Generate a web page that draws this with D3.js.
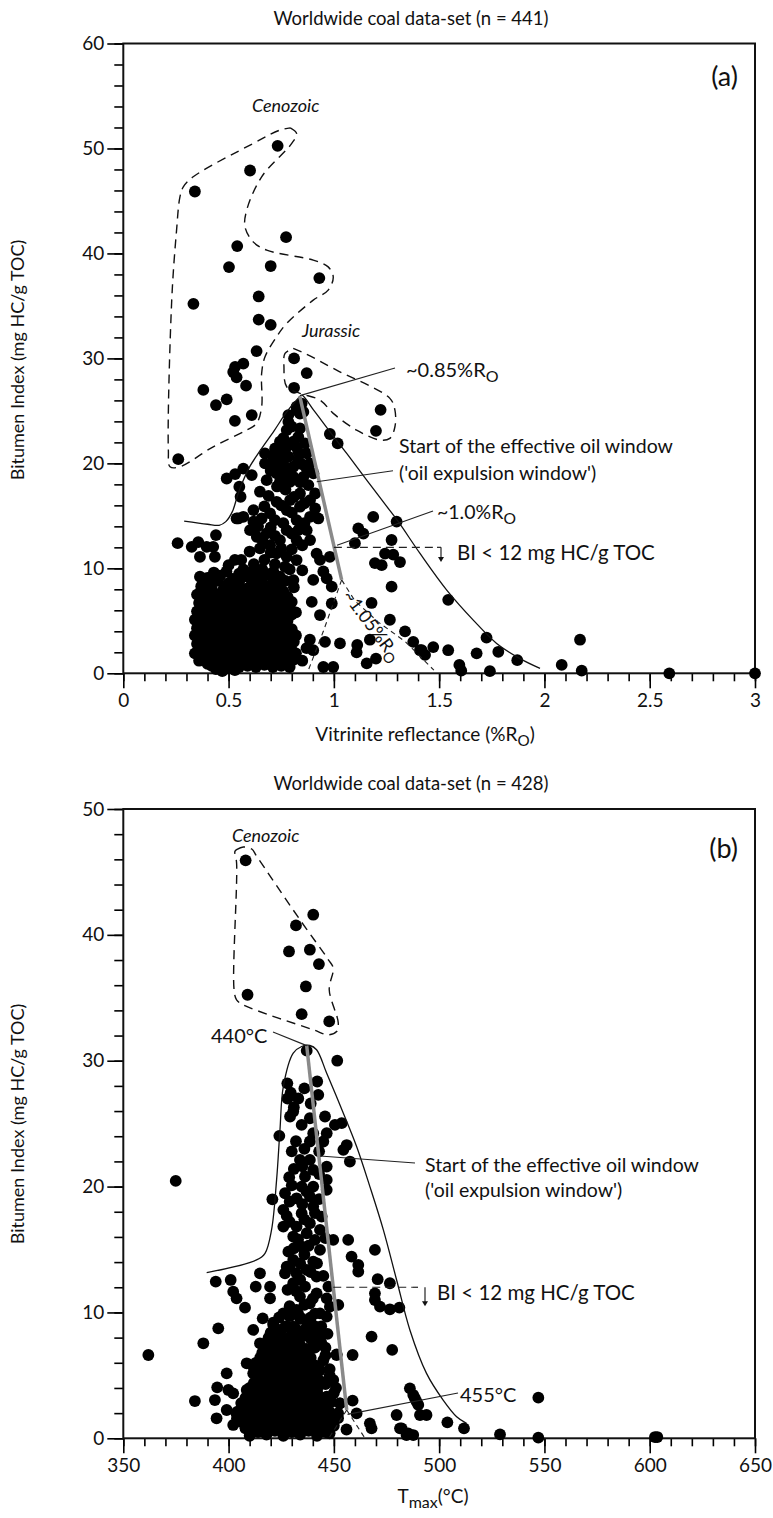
<!DOCTYPE html>
<html><head><meta charset="utf-8">
<script src="https://cdn.jsdelivr.net/npm/d3@7"></script>
<style>body{margin:0;background:#fff}svg{display:block}text{font-family:Lato,"Open Sans",sans-serif;fill:#111}</style>
</head><body>
<script>
// ---------- DATA: panel (a) Vitrinite reflectance vs Bitumen Index ----------
const xTicksA = [0, 0.5, 1, 1.5, 2, 2.5, 3];
const yTicksA = [0, 10, 20, 30, 40, 50, 60];
const pointsA = [
 // Cenozoic
 [0.733,50.25],[0.602,47.9],[0.340,45.9],[0.773,41.55],[0.541,40.7],[0.502,38.7],[0.700,38.8],[0.931,37.65],[0.333,35.2],[0.643,35.9],[0.643,33.7],[0.700,33.2],[0.633,30.7],[0.531,29.2],[0.570,29.5],[0.522,28.7],[0.538,28.2],[0.583,27.4],[0.380,27.0],[0.440,25.55],[0.491,26.1],[0.530,24.05],[0.610,24.6],[0.261,20.4],
 // Jurassic
 [0.811,30.0],[0.871,28.6],[0.811,27.2],[1.222,25.1],[1.200,23.1],
 [0.981,22.8],[1.018,21.9],
 // column near peak
 [0.823,25.4],[0.847,25.7],[0.855,24.9],[0.823,25.07],[0.839,24.75],[0.784,24.6],
 [0.784,23.96],[0.776,23.17],[0.839,23.33],[0.831,22.53],[0.808,22.06],[0.863,21.9],[0.744,22.06],[0.721,21.42],[0.768,21.26],[0.831,21.1],[0.871,20.95],[0.673,20.95],[0.713,20.47],[0.744,20.63],[0.784,20.63],[0.831,20.31],[0.887,20.0],[0.673,20.0],[0.713,19.83],[0.752,19.68],[0.808,19.68],[0.871,19.52],[0.903,19.04],[0.728,19.04],[0.768,18.88],[0.808,18.72],[0.855,18.72],[0.879,17.93],[0.681,18.4],[0.744,18.25],[0.792,18.25],[0.911,17.13],[0.839,17.13],[0.887,16.5],[0.792,16.5],[0.728,16.34],[0.649,17.3],[0.911,15.7],[0.839,15.87],[0.776,15.55],[0.887,14.91],[0.823,14.6],[0.697,15.23],[0.618,15.55],[0.657,14.75],[0.618,14.44],[0.570,14.91],[0.546,14.75],[0.926,14.75],[0.871,13.64],[0.831,13.64],[0.776,13.64],[0.681,13.33],[0.634,13.01],[0.602,13.64],[0.887,12.69],[0.823,12.69],[0.744,12.69],[0.697,12.21],[0.649,11.9],[0.728,11.42],[0.776,11.1],[0.823,10.79],[0.768,10.15],[0.713,9.67],[0.649,9.52],[0.744,9.2],[0.808,8.88],
 [0.80,23.5],[0.76,22.4],[0.82,21.6],[0.79,21.8],[0.72,20.9],[0.76,19.9],[0.85,19.9],[0.70,19.3],[0.79,19.3],[0.84,18.2],[0.73,17.8],[0.77,17.5],[0.69,16.9],[0.81,16.8],[0.86,16.2],[0.75,16.0],[0.80,15.3],[0.67,15.9],[0.72,14.6],[0.76,14.3],[0.86,14.3],[0.70,13.9],[0.80,13.3],[0.64,14.0],[0.66,12.7],[0.72,13.1],[0.85,12.2],[0.80,11.8],[0.70,11.5],[0.75,11.9],[0.67,10.8],[0.62,10.4],[0.72,10.4],[0.79,9.9],[0.85,9.8],[0.66,9.9],[0.57,9.9],[0.53,10.8],
 // left flank
 [0.491,18.56],[0.531,18.98],[0.570,19.5],[0.610,18.88],[0.551,17.77],[0.557,16.82],[0.538,14.75],[0.440,13.17],[0.258,12.4],[0.325,12.05],[0.356,12.5],[0.396,12.05],[0.427,12.05],[0.364,11.1],[0.435,11.1],[0.364,9.2],[0.443,9.35],[0.50,10.3],[0.56,10.8],[0.60,11.6],
 // right scatter
 [1.298,14.45],[1.187,14.9],[1.116,13.8],[1.140,13.3],[1.100,12.4],[1.274,12.7],[1.243,11.4],[1.282,11.3],[1.314,10.6],[1.195,10.5],[1.227,10.3],[1.274,8.25],[1.543,7.0],[1.179,6.7],[1.266,5.1],[1.338,4.0],[1.377,3.0],[1.417,2.2],[1.472,2.5],[1.543,2.2],[1.725,3.4],[1.678,1.9],[1.781,2.05],[2.169,3.2],[0.95,0.6],[0.997,0.6],[1.111,2.7],[1.108,2.0],[1.156,0.95],[1.2,1.4],[1.409,2.2],[1.433,1.75],[1.596,0.8],[1.605,0.25],[1.741,0.2],[1.871,1.25],[1.029,2.85],[0.958,3.0],[2.082,0.8],[2.177,0.25],[2.593,0.0],[3.0,0.0],[0.981,11.1],[0.99,8.25],[0.918,11.4],[0.934,10.8],[0.902,8.9],[0.95,9.7],[0.966,9.05],[0.895,6.8],[0.934,5.55],[0.99,6.65],[0.886,3.2],[0.902,2.2],[1.171,3.2],[0.85,1.2],[0.87,2.4],
 // dense low-maturity blob
 [0.44,0.4],[0.47,0.2],[0.50,0.5],[0.53,0.3],
 [0.36,1.2],[0.40,0.9],[0.44,1.3],[0.48,1.0],[0.52,1.2],[0.57,0.9],[0.61,1.1],[0.65,1.3],[0.69,0.9],[0.73,1.2],[0.77,1.0],[0.81,1.3],
 [0.34,1.9],[0.38,2.1],[0.42,1.8],[0.46,2.0],[0.50,1.7],[0.54,2.1],[0.58,1.9],[0.62,2.2],[0.66,1.8],[0.70,2.0],[0.74,1.7],[0.78,2.1],[0.82,1.9],
 [0.35,2.8],[0.39,2.6],[0.43,2.9],[0.47,2.7],[0.51,2.5],[0.55,2.9],[0.59,2.6],[0.63,2.8],[0.67,2.6],[0.71,2.9],[0.75,2.7],[0.79,2.5],
 [0.34,3.6],[0.38,3.4],[0.42,3.7],[0.46,3.5],[0.50,3.3],[0.54,3.6],[0.58,3.4],[0.62,3.7],[0.66,3.5],[0.70,3.3],[0.74,3.6],[0.78,3.4],[0.82,3.6],
 [0.35,4.3],[0.39,4.5],[0.43,4.2],[0.47,4.4],[0.51,4.1],[0.55,4.4],[0.59,4.2],[0.63,4.5],[0.67,4.3],[0.71,4.1],[0.75,4.4],[0.80,4.2],
 [0.34,5.1],[0.38,5.3],[0.42,5.0],[0.46,5.2],[0.50,4.9],[0.54,5.2],[0.58,5.0],[0.62,5.3],[0.66,5.1],[0.70,4.9],[0.74,5.2],[0.78,5.0],
 [0.35,5.9],[0.39,6.1],[0.43,5.8],[0.47,6.0],[0.51,5.7],[0.56,6.0],[0.60,5.8],[0.64,6.1],[0.68,5.9],[0.72,5.7],[0.77,6.0],[0.82,5.8],
 [0.36,6.7],[0.40,6.9],[0.44,6.6],[0.49,6.8],[0.53,6.5],[0.58,6.8],[0.62,6.6],[0.66,6.9],[0.71,6.7],[0.75,6.5],[0.80,6.8],
 [0.35,7.5],[0.39,7.7],[0.45,7.4],[0.50,7.6],[0.55,7.3],[0.60,7.6],[0.64,7.4],[0.69,7.7],[0.73,7.5],[0.78,7.3],
 [0.37,8.3],[0.42,8.5],[0.48,8.2],[0.53,8.4],[0.59,8.1],[0.63,8.4],[0.68,8.2],[0.74,8.5],[0.81,8.2],
 [0.40,9.1],[0.46,9.3],[0.52,9.0],[0.57,9.2],[0.62,9.0],[0.67,9.3],[0.72,9.1],
 [0.42,0.7],[0.46,0.8],[0.55,0.6],[0.59,0.7],[0.63,0.6],[0.67,0.8],[0.71,0.6],[0.75,0.7],[0.79,0.6],
 [0.38,1.5],[0.42,1.6],[0.46,1.4],[0.50,1.5],[0.54,1.6],[0.59,1.4],[0.63,1.5],[0.67,1.6],[0.71,1.4],[0.75,1.5],[0.79,1.6],
 [0.36,2.3],[0.40,2.4],[0.44,2.2],[0.48,2.3],[0.52,2.4],[0.56,2.2],[0.60,2.3],[0.64,2.4],[0.68,2.2],[0.72,2.3],[0.76,2.4],[0.80,2.2],
 [0.37,3.1],[0.41,3.2],[0.45,3.0],[0.49,3.1],[0.53,3.2],[0.57,3.0],[0.61,3.1],[0.65,3.2],[0.69,3.0],[0.73,3.1],[0.77,3.2],[0.81,3.0],
 [0.36,3.9],[0.40,4.0],[0.44,3.8],[0.48,3.9],[0.52,4.0],[0.56,3.8],[0.60,3.9],[0.64,4.0],[0.68,3.8],[0.72,3.9],[0.76,4.0],[0.80,3.8],
 [0.37,4.7],[0.41,4.8],[0.45,4.6],[0.49,4.7],[0.53,4.8],[0.57,4.6],[0.61,4.7],[0.65,4.8],[0.69,4.6],[0.73,4.7],[0.77,4.8],
 [0.36,5.5],[0.40,5.6],[0.44,5.4],[0.48,5.5],[0.52,5.6],[0.58,5.4],[0.62,5.5],[0.66,5.6],[0.70,5.4],[0.75,5.5],[0.80,5.6],
 [0.37,6.3],[0.41,6.4],[0.45,6.2],[0.49,6.3],[0.54,6.4],[0.58,6.2],[0.62,6.3],[0.66,6.4],[0.70,6.2],[0.74,6.3],[0.79,6.4],
 [0.38,7.1],[0.42,7.2],[0.47,7.0],[0.51,7.1],[0.56,7.2],[0.60,7.0],[0.64,7.1],[0.68,7.2],[0.73,7.0],[0.77,7.1],
 [0.37,7.9],[0.42,8.0],[0.47,7.8],[0.52,7.9],[0.57,8.0],[0.62,7.8],[0.66,7.9],[0.71,8.0],[0.76,7.8],
 [0.39,8.7],[0.45,8.8],[0.50,8.6],[0.55,8.7],[0.61,8.8],[0.66,8.6],[0.71,8.7],[0.77,8.8],
 [0.43,9.6],[0.49,9.7],[0.55,9.5],[0.60,9.6],[0.65,9.7],[0.70,9.5]
];
const envelopeA = [[0.289,14.5],[0.40,14.2],[0.455,14.1],[0.487,14.45],[0.518,15.4],[0.542,16.9],[0.566,18.2],[0.598,19.6],[0.653,21.3],[0.716,23.1],[0.776,24.9],[0.831,26.2],[0.847,26.5],[0.903,25.1],[0.982,23.0],[1.061,20.95],[1.156,18.4],[1.251,15.9],[1.306,14.44],[1.409,11.42],[1.536,7.93],[1.662,5.07],[1.773,2.85],[1.884,1.4],[1.979,0.47]];
const greyLineA = [[0.838,26.4],[1.037,8.9]];
const dashLeftA = [[1.037,8.9],[0.95,4.0],[0.875,0.1]];
const dashRightA = [[1.037,8.9],[1.10,6.9],[1.21,4.9],[1.34,3.0],[1.475,0.3]];
const cenozoicA = [[0.793,51.96],[0.823,51.43],[0.80,50.48],[0.657,47.3],[0.586,44.12],[0.578,42.53],[0.617,41.1],[0.681,40.31],[0.902,39.36],[0.973,38.72],[0.997,37.77],[0.973,36.5],[0.902,35.55],[0.776,33.33],[0.728,32.06],[0.673,30.15],[0.657,28.57],[0.657,25.39],[0.633,23.81],[0.586,23.17],[0.427,21.58],[0.269,19.68],[0.222,19.68],[0.214,21.27],[0.23,35.55],[0.253,42.22],[0.269,45.39],[0.285,46.34],[0.332,47.3],[0.617,50.48],[0.744,51.75],[0.793,51.96]];
const jurassicA = [[0.807,30.95],[0.863,30.47],[1.013,28.88],[1.266,26.19],[1.29,25.07],[1.29,23.49],[1.266,22.38],[1.219,22.22],[1.108,23.17],[0.997,24.76],[0.934,26.03],[0.839,26.67],[0.776,27.3],[0.763,29.2],[0.768,30.47],[0.807,30.95]];

// ---------- DATA: panel (b) Tmax vs Bitumen Index ----------
const xTicksB = [350, 400, 450, 500, 550, 600, 650];
const yTicksB = [0, 10, 20, 30, 40, 50];
const pointsB = [
 // Cenozoic
 [408.1,45.92],[440.2,41.6],[432.0,40.75],[428.7,38.68],[438.6,38.82],[442.9,37.68],[436.7,35.9],[409.0,35.24],[434.7,33.7],[447.8,33.12],[451.6,30.0],[437.1,30.8],
 // outliers
 [374.9,20.45],[361.9,6.62],[547.1,3.23],[547.1,0.05],[528.9,0.31],[511.8,0.79],[503.9,1.27],[602.5,0.1],[603.6,0.1],
 // left scatter
 [393.9,12.45],[401.0,12.58],[402.2,11.65],[403.8,11.12],[407.8,10.38],[395.1,8.74],[388.0,7.55],[384.0,2.96],[393.5,3.04],[394.6,4.05],[414.9,13.11],[412.9,12.05],[419.7,12.05],[419.7,11.12],[411.7,8.61],[416.2,9.53],[421.2,9.19],
 [399.1,5.16],[399.9,3.84],[402.2,3.57],[394.3,1.59],[399.1,2.25],[403.8,1.98],[402.2,1.06],[407.0,2.51],[408.6,3.84],[411.7,5.16],[408.6,5.96],[414.9,7.55],[421.2,9.0],
 // right scatter
 [454.5,22.92],[456.1,23.3],[457.6,21.99],[449.7,15.76],[456.8,15.76],[458.4,14.44],[461.6,13.77],[461.6,13.24],[469.5,14.97],[470.8,12.64],[476.6,12.32],[469.5,11.52],[469.5,10.99],[471.9,10.46],[476.6,10.25],[481.1,10.38],[467.9,8.08],[477.7,7.02],[458.9,6.62],[451.3,6.67],[447.4,12.05],[446.6,11.12],[448.1,10.46],[452.1,10.6],[486.1,3.97],[487.7,3.44],[489.3,2.91],[490.9,1.85],[494.0,1.85],[479.8,1.85],[481.4,0.79],[485.3,0.39],[460.8,1.98],[467.1,1.19],[467.9,0.79],[458.9,2.99],[452.9,2.78],[482.2,0.79],[484.5,0.26],[487.7,0.26],[488.5,3.18],[490.1,2.65],
 // main column
 [427.9,28.2],[429.5,27.47],[433.1,27.0],[430.7,25.96],[429.2,25.57],[434.7,24.9],[438.6,25.43],[442.1,28.35],[442.6,27.29],[445.8,25.57],[450.5,24.9],[453.7,25.04],[446.6,24.24],[440.2,24.24],[445.0,23.58],[438.6,23.58],[433.9,22.12],[438.6,22.12],[446.6,21.59],[440.2,21.33],[436.3,20.8],[446.6,20.53],[440.2,20.0],[434.7,20.0],[446.6,19.74],[438.6,19.21],[432.3,19.07],[440.2,18.41],[434.7,17.88],[444.2,17.62],[438.6,17.09],[432.3,16.82],[443.4,16.56],[437.1,16.29],[430.7,16.03],[441.0,15.76],[434.7,15.23],[443.4,14.97],[430.7,14.17],[440.2,14.04],[437.1,13.38],[432.3,13.11],[441.8,12.85],[430.7,12.32],[436.3,12.05],[441.8,11.52],[433.9,11.26],[438.6,10.73],[432.3,10.2],[443.4,9.93],[437.1,9.4],[446.6,9.67],[440.2,8.61],[443.4,8.08],[430.7,8.87],[451.3,6.62],[449.7,4.63],[443.4,5.43],[446.6,3.31],[452.9,2.78],[437.1,7.02],[432.3,7.81],[426.0,9.93],[427.6,8.87],[424.4,7.81],[420.4,7.28],
 [424.1,24.03],[420.8,18.99],[426.0,18.15],[426.8,19.47],[428.8,20.74],[427.6,17.67],[426.0,16.82],[428.4,14.83],[427.6,13.64],[426.8,13.11],
 [428,27.0],[431,26.3],[436,27.8],[439,26.6],[432,23.6],[436,23.0],[430,22.8],[443,22.8],[431,21.4],[435,21.6],[443,21.0],[430,20.1],[437,19.6],[443,19.0],[429,18.8],[435,18.6],[441,17.9],[429,17.2],[436,17.4],[433,15.8],[438,15.3],[446,15.9],[431,15.1],[436,14.6],[442,13.9],[434,13.9],[429,13.6],[439,13.2],[434,12.6],[445,12.9],[428,11.8],[432,11.7],[440,11.1],[436,10.6],[429,10.5],[441,9.9],[434,9.6],[444,8.9],[447,8.3],[439,9.2],[433,9.9],[446,7.2],[441,7.5],[438,6.6],[445,6.2],[448,5.0],[446,4.3],[450,3.6],[441,3.1],[448,1.2],[452,1.6],[456,0.7],[446,0.5],[414,0.5],[410,0.2],
 [448,0.4],[450,1.0],[452,2.0],[449,2.9],[451,4.0],[448,5.5],[446,6.6],[444,7.6],
 // dense base
 [418,0.3],[422,0.6],[426,0.2],[430,0.5],[434,0.3],[438,0.6],[442,0.2],
 [406,1.3],[410,1.0],[414,1.4],[418,1.1],[422,1.3],[426,1.0],[430,1.4],[434,1.2],[438,1.0],[442,1.3],[446,1.1],
 [404,2.1],[408,1.9],[412,2.2],[416,1.8],[420,2.1],[424,1.9],[428,2.2],[432,1.8],[436,2.0],[440,2.2],[444,1.9],[448,2.1],
 [406,2.8],[410,3.0],[414,2.7],[418,2.9],[422,2.6],[426,3.0],[430,2.8],[434,2.6],[438,2.9],[442,2.7],[446,3.0],
 [410,3.6],[414,3.8],[418,3.5],[422,3.7],[426,3.4],[430,3.8],[434,3.6],[438,3.4],[442,3.7],
 [412,4.4],[416,4.6],[420,4.3],[424,4.5],[428,4.2],[432,4.6],[436,4.4],[440,4.2],[444,4.5],
 [414,5.2],[418,5.4],[422,5.1],[426,5.3],[430,5.0],[434,5.4],[438,5.2],
 [413,6.0],[417,6.2],[421,5.9],[425,6.1],[429,5.8],[433,6.2],[437,6.0],[441,5.8],
 [416,6.8],[420,7.0],[424,6.7],[428,6.9],[432,6.6],[436,6.9],
 [418,7.6],[422,7.8],[426,7.5],[430,7.7],[434,7.4],
 [420,8.4],[425,8.6],[430,8.3],[436,8.5],
 [408,0.8],[412,0.9],[416,0.7],[420,0.8],[424,0.9],[428,0.7],[432,0.8],[436,0.9],[440,0.7],[444,0.8],
 [404,1.6],[408,1.5],[412,1.7],[416,1.6],[420,1.5],[424,1.7],[428,1.6],[432,1.5],[436,1.7],[440,1.6],[444,1.5],[448,1.7],
 [406,2.4],[410,2.5],[414,2.3],[418,2.4],[422,2.5],[426,2.3],[430,2.4],[434,2.5],[438,2.3],[442,2.4],[446,2.5],
 [408,3.2],[412,3.3],[416,3.1],[420,3.2],[424,3.3],[428,3.1],[432,3.2],[436,3.3],[440,3.1],[444,3.2],
 [410,4.0],[414,4.1],[418,3.9],[422,4.0],[426,4.1],[430,3.9],[434,4.0],[438,4.1],[442,3.9],
 [414,4.8],[418,4.9],[422,4.7],[426,4.8],[430,4.9],[434,4.7],[438,4.8],[442,4.9],
 [412,5.6],[416,5.7],[420,5.5],[424,5.6],[428,5.7],[432,5.5],[436,5.6],[440,5.7],
 [415,6.4],[419,6.5],[423,6.3],[427,6.4],[431,6.5],[435,6.3],[439,6.4],
 [417,7.2],[421,7.3],[425,7.1],[429,7.2],[433,7.3],[437,7.1],[441,7.2],
 [419,8.0],[423,8.1],[427,7.9],[431,8.0],[435,8.1],[439,7.9],
 [422,8.8],[427,8.9],[432,8.7],[437,8.8],[441,8.9],
 [424,9.6],[429,9.7],[434,9.5],[439,9.6]
];
const envelopeB = [[389.6,13.16],[413.3,14.17],[417.3,14.7],[420.4,16.56],[422.8,20.53],[424.4,24.5],[426.0,27.95],[430.7,30.6],[434.7,31.13],[438.6,31.21],[441.8,30.87],[446.6,29.0],[454.5,25.83],[460.8,23.18],[467.1,20.0],[473.5,16.56],[479.8,12.58],[486.1,8.61],[494.0,5.16],[501.9,3.04],[508.3,1.72],[513.0,1.19]];
const greyLineB = [[437.1,31.2],[456.1,2.25]];
const dashLeftB = [[456.1,2.25],[447.6,0.0]];
const dashRightB = [[456.1,2.25],[464.8,0.0]];
const cenozoicB = [[403.8,46.77],[407.0,46.98],[411.0,46.82],[413.4,46.23],[433.9,41.2],[447.4,38.02],[449.7,37.36],[447.8,35.64],[452.1,32.99],[451.3,32.32],[447.4,32.06],[440.2,32.46],[407.0,34.44],[403.8,34.84],[402.6,35.64],[403.8,45.71],[403.0,46.63],[403.8,46.77]];

// ---------- DRAWING ----------
const W = 773, H = 1518;
const svg = d3.select("body").append("svg").attr("width", W).attr("height", H);
const TICK_FS = 19;

function panel(cfg) {
  const x = d3.scaleLinear().domain(cfg.xDomain).range([123.3, 755]);
  const y = d3.scaleLinear().domain(cfg.yDomain).range(cfg.yRange);
  const g = svg.append("g");
  const [y0, y1] = cfg.yRange;
  const line = d3.line().x(d => x(d[0])).y(d => y(d[1]));
  const curve = d3.line().x(d => x(d[0])).y(d => y(d[1])).curve(d3.curveCatmullRom.alpha(0.5));

  const xMinor = d3.range(cfg.xDomain[0], cfg.xDomain[1] + 1e-9, cfg.xMinorStep);
  const yMinor = d3.range(cfg.yDomain[0], cfg.yDomain[1] + 1e-9, cfg.yMinorStep);
  g.append("g").attr("transform", `translate(0,${y0})`)
    .call(d3.axisBottom(x).tickValues(xMinor).tickSize(8).tickFormat(""))
    .call(a => a.select(".domain").remove())
    .selectAll("line").attr("stroke-width", 1.6);
  g.append("g").attr("transform", `translate(0,${y0})`)
    .call(d3.axisBottom(x).tickValues(cfg.xTicks).tickSize(15).tickPadding(5).tickFormat(cfg.xFmt))
    .call(a => a.select(".domain").remove())
    .call(a => a.selectAll("line").attr("stroke-width", 1.6))
    .call(a => a.selectAll("text").attr("font-size", TICK_FS).attr("font-family", "Lato").attr("fill", "#111"));
  g.append("g").attr("transform", `translate(123.3,0)`)
    .call(d3.axisLeft(y).tickValues(yMinor).tickSize(9).tickFormat(""))
    .call(a => a.select(".domain").remove())
    .selectAll("line").attr("stroke-width", 1.6);
  g.append("g").attr("transform", `translate(123.3,0)`)
    .call(d3.axisLeft(y).tickValues(cfg.yTicks).tickSize(16).tickPadding(3).tickFormat(d3.format("d")))
    .call(a => a.select(".domain").remove())
    .call(a => a.selectAll("line").attr("stroke-width", 1.6))
    .call(a => a.selectAll("text").attr("font-size", TICK_FS).attr("font-family", "Lato").attr("fill", "#111"));

  g.append("rect").attr("x", 123.3).attr("y", y1).attr("width", 755 - 123.3).attr("height", y0 - y1)
    .attr("fill", "none").attr("stroke", "#111").attr("stroke-width", 2);

  g.append("g").selectAll("circle").data(cfg.points).join("circle")
    .attr("cx", d => x(d[0])).attr("cy", d => y(d[1])).attr("r", 5.9).attr("fill", "#000");

  cfg.dashed.forEach(p => g.append("path").attr("d", curve(p)).attr("fill", "none")
    .attr("stroke", "#111").attr("stroke-width", 1.4).attr("stroke-dasharray", "9,6"));
  g.append("path").attr("d", curve(cfg.envelope)).attr("fill", "none").attr("stroke", "#111").attr("stroke-width", 1.3);
  cfg.smallDash.forEach(p => g.append("path").attr("d", line(p)).attr("fill", "none")
    .attr("stroke", "#222").attr("stroke-width", 1.1).attr("stroke-dasharray", "5,4"));
  g.append("path").attr("d", line(cfg.grey)).attr("fill", "none").attr("stroke", "#8a8a8a").attr("stroke-width", 3.5);

  return {g, x, y};
}

function addText(g, px, py, str, opts = {}) {
  const fs = opts.size || 19;
  const t = g.append("text").attr("x", px).attr("y", py).attr("font-size", fs)
    .attr("text-anchor", opts.anchor || "start");
  if (opts.italic) t.attr("font-style", "italic");
  if (opts.rotate) t.attr("transform", `rotate(${opts.rotate},${px},${py})`);
  if (opts.sub) {
    t.append("tspan").text(str);
    t.append("tspan").text(opts.sub).attr("font-size", fs * 0.8).attr("dy", 5);
    if (opts.after) t.append("tspan").text(opts.after).attr("dy", -5);
  } else t.text(str);
  return t;
}
function seg(g, a, b, o = {}) {
  g.append("line").attr("x1", a[0]).attr("y1", a[1]).attr("x2", b[0]).attr("y2", b[1])
    .attr("stroke", o.color || "#222").attr("stroke-width", o.w || 1.1)
    .attr("stroke-dasharray", o.dash || null);
}
function arrowDown(g, px, pyTop, pyBot) {
  seg(g, [px, pyTop], [px, pyBot - 4], {w: 1.2});
  g.append("path").attr("d", `M${px - 3},${pyBot - 5} L${px + 3},${pyBot - 5} L${px},${pyBot} Z`).attr("fill", "#111");
}

// ---- panel (a)
const A = panel({
  xDomain: [0, 3], yDomain: [0, 60], yRange: [673.3, 43.5],
  xMinorStep: 0.1, yMinorStep: 2, xTicks: xTicksA, yTicks: yTicksA,
  xFmt: d => d3.format("")(d),
  points: pointsA, envelope: envelopeA, grey: greyLineA,
  dashed: [cenozoicA, jurassicA], smallDash: [dashLeftA, dashRightA]
});
{
  const {g, x, y} = A;
  addText(g, 411, 25, "Worldwide coal data-set (n = 441)", {size: 18.5, anchor: "middle"});
  addText(g, 738, 86, "(a)", {size: 27, anchor: "end"});
  addText(g, 252, 112, "Cenozoic", {size: 18, italic: true});
  addText(g, 302, 337, "Jurassic", {size: 18, italic: true});
  seg(g, [x(0.847), y(26.5)], [395, 368]);
  addText(g, 406, 377, "~0.85%R", {size: 20, sub: "O"});
  seg(g, [316.7, 481.7], [393, 470.7]);
  addText(g, 399, 453, "Start of the effective oil window", {size: 19.5});
  addText(g, 399, 480, "('oil expulsion window')", {size: 19.5});
  seg(g, [x(1.015), y(12.2)], [433, 511]);
  addText(g, 437, 519, "~1.0%R", {size: 19.5, sub: "O"});
  seg(g, [x(1.0), y(12)], [437, y(12)], {dash: "8,5", w: 1.2});
  seg(g, [437, y(12)], [441, y(12)], {w: 1.2});
  arrowDown(g, 441, y(12), y(10.6));
  addText(g, 457, 560, "BI < 12 mg HC/g TOC", {size: 20.5});
  addText(g, 342, 596, "~1.05%R", {size: 18, rotate: 53, sub: "O"});
  addText(g, 425, 741, "Vitrinite reflectance (%R", {size: 19, anchor: "middle", sub: "O", after: ")"});
  addText(g, 24, 360, "Bitumen Index (mg HC/g TOC)", {size: 18, anchor: "middle", rotate: -90});
}

// ---- panel (b)
const B = panel({
  xDomain: [350, 650], yDomain: [0, 50], yRange: [1438.3, 809],
  xMinorStep: 10, yMinorStep: 2, xTicks: xTicksB, yTicks: yTicksB,
  xFmt: d3.format("d"),
  points: pointsB, envelope: envelopeB, grey: greyLineB,
  dashed: [cenozoicB], smallDash: [dashLeftB, dashRightB]
});
{
  const {g, x, y} = B;
  addText(g, 411, 790, "Worldwide coal data-set (n = 428)", {size: 18.5, anchor: "middle"});
  addText(g, 738, 858, "(b)", {size: 27, anchor: "end"});
  addText(g, 232, 842, "Cenozoic", {size: 18, italic: true});
  seg(g, [273, 1032], [x(437.1), y(31.2)]);
  addText(g, 211, 1043, "440°C", {size: 20});
  seg(g, [320, 1156], [415, 1163]);
  addText(g, 425, 1172, "Start of the effective oil window", {size: 19.5});
  addText(g, 425, 1197, "('oil expulsion window')", {size: 19.5});
  seg(g, [x(456.5), y(1.9)], [458, 1393]);
  addText(g, 460, 1402, "455°C", {size: 20});
  seg(g, [x(449.7), y(12)], [413, y(12)], {dash: "8,5", w: 1.2});
  seg(g, [413, y(12)], [418, y(12)], {w: 1.2});
  arrowDown(g, 425, y(12), y(10.5));
  addText(g, 437, 1300, "BI < 12 mg HC/g TOC", {size: 20.5});
  const t = g.append("text").attr("x", 433).attr("y", 1503).attr("font-size", 19).attr("text-anchor", "middle");
  t.append("tspan").text("T");
  t.append("tspan").text("max").attr("font-size", 16).attr("dy", 5);
  t.append("tspan").text("(°C)").attr("dy", -5);
  addText(g, 24, 1124, "Bitumen Index (mg HC/g TOC)", {size: 18, anchor: "middle", rotate: -90});
}
</script>
</body></html>
